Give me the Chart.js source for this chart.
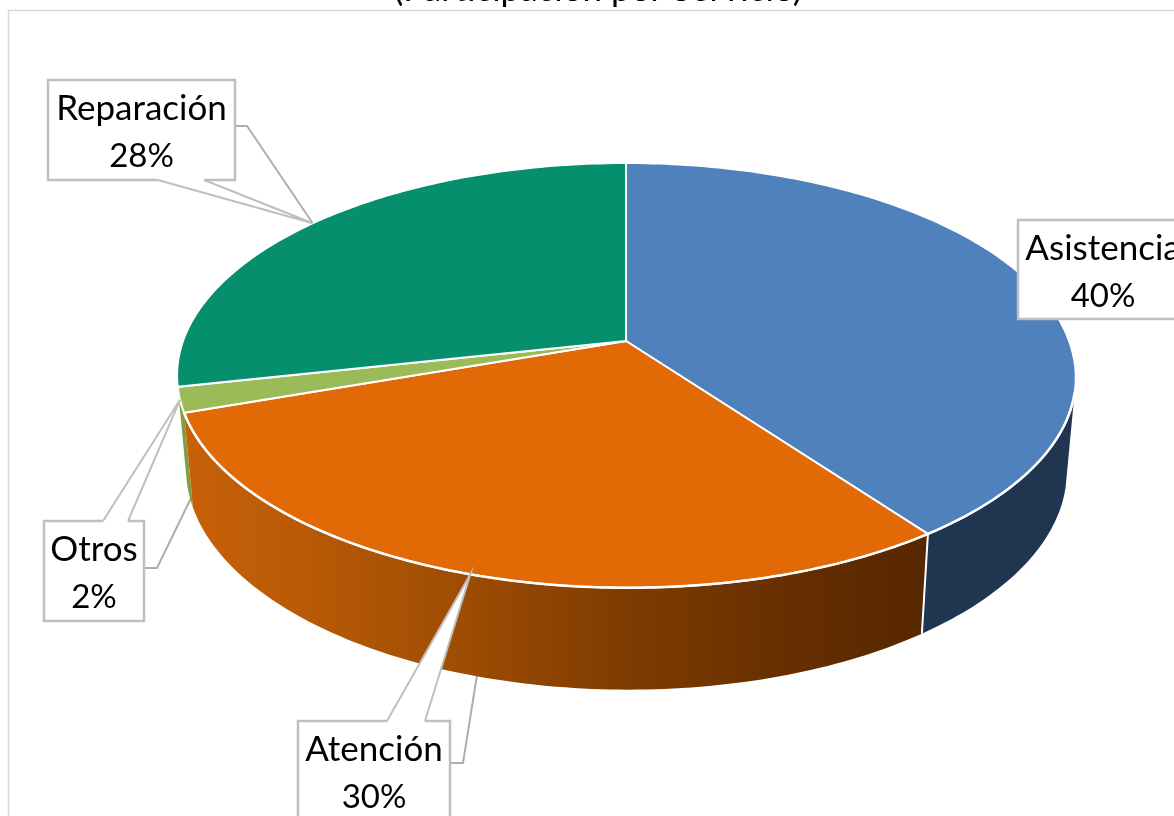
<!DOCTYPE html>
<html>
<head>
<meta charset="utf-8">
<title>Participación por Servicio</title>
<script src="https://cdn.jsdelivr.net/npm/chart.js@4/dist/chart.umd.min.js"></script>
<style>
    html, body { margin: 0; padding: 0; background: #fff; overflow: hidden; }
    canvas { display: block; }
</style>
</head>
<body>
<canvas id="pieChart" width="1174" height="816"></canvas>
<script>
// Chart data
const titleText = "(Participación por Servicio)";
const servicios = ["Asistencia", "Atención", "Otros", "Reparación"];
const participacion = [40, 29.6, 1.9, 28.4];
const topColors = ["#4f81bd", "#e26a06", "#9bbb59", "#068f6c"];
const wallColors = ["#1f3550", "#c76009", "#7f9f42", "#04684e"];

// Shading of the orange wall, left to right
const wallStopsX = [192, 300, 450, 620, 800, 922];
const wallStopsColor = ["#c76009", "#b95a07", "#a04e03", "#7f3c01", "#652e00", "#572700"];

// Callout boxes: x, y, w, h, wedge on top/bottom edge, elbow height and x, where the elbow line ends
const calloutBoxes = [
    { box: [1018, 220, 170, 99] },
    { box: [298, 721, 152, 100], wedge: [387, 425], elbow: [763, 463], far: [477, 675] },
    { box: [44, 521, 100, 100], wedge: [103, 128], elbow: [568, 157], far: [193, 494] },
    { box: [48, 80, 187, 100], wedge: [158, 204], elbow: [126, 247] }
];

// Tilted disc seen in perspective
const view = { cx: 626, cy: 341, a: 443, b: 206.8, k: -0.162, skew: 5 };
const lower = { dy: 92, sx: 0.98, sy: 1.04 };
const rad = Math.PI / 180;
const labelFont = "35px Lato, 'Open Sans', sans-serif";
const pctFont = "33px Lato, 'Open Sans', sans-serif";

function topPoint(angle) {
    const c = Math.cos(angle), s = Math.sin(angle);
    const w = 1 + view.k * s;
    // the front right of the source disc leans out a little
    const lean = s > 0 ? view.skew * s * (c + 1) / 2 : 0;
    return [view.cx + view.a * c / w + lean, view.cy + view.b * s / w];
}

function lowPoint(angle) {
    const p = topPoint(angle);
    return [view.cx + (p[0] - view.cx) * lower.sx, view.cy + lower.dy + (p[1] - view.cy) * lower.sy];
}

function traceArc(ctx, fn, from, to) {
    const steps = Math.max(4, Math.ceil(Math.abs(to - from) / rad));
    for (let i = 0; i <= steps; i++) {
        const p = fn(from + (to - from) * i / steps);
        ctx.lineTo(p[0], p[1]);
    }
}

function drawWall(ctx, arc, i) {
    const from = Math.max(arc.startAngle, 14 * rad);
    const to = Math.min(arc.endAngle, 171 * rad);
    if (to <= from) return;
    ctx.beginPath();
    traceArc(ctx, topPoint, from, to);
    traceArc(ctx, lowPoint, to, from);
    ctx.closePath();
    if (i === 1) {
        const g = ctx.createLinearGradient(wallStopsX[0], 0, wallStopsX[wallStopsX.length - 1], 0);
        wallStopsX.forEach((x, n) => {
            g.addColorStop((x - wallStopsX[0]) / (wallStopsX[wallStopsX.length - 1] - wallStopsX[0]), wallStopsColor[n]);
        });
        ctx.fillStyle = g;
    } else {
        ctx.fillStyle = wallColors[i];
    }
    ctx.fill();
}

function drawTop(ctx, arc, i) {
    ctx.beginPath();
    ctx.moveTo(view.cx, view.cy);
    traceArc(ctx, topPoint, arc.startAngle, arc.endAngle);
    ctx.closePath();
    ctx.fillStyle = topColors[i];
    ctx.fill();
    ctx.strokeStyle = "#ffffff";
    ctx.lineWidth = 2;
    ctx.stroke();
}

function drawElbow(ctx, arc, i) {
    const c = calloutBoxes[i];
    if (!c.elbow) return;
    const tip = c.far || topPoint((arc.startAngle + arc.endAngle) / 2);
    ctx.beginPath();
    ctx.moveTo(c.box[0] + c.box[2], c.elbow[0]);
    ctx.lineTo(c.elbow[1], c.elbow[0]);
    ctx.lineTo(tip[0], tip[1]);
    ctx.strokeStyle = "#aeaeae";
    ctx.lineWidth = 2;
    ctx.stroke();
}

function drawCallout(ctx, arc, i, total) {
    const c = calloutBoxes[i];
    const [x, y, w, h] = c.box;
    ctx.beginPath();
    ctx.rect(x, y, w, h);
    ctx.fillStyle = "#ffffff";
    ctx.fill();
    if (c.wedge) {
        const tip = topPoint((arc.startAngle + arc.endAngle) / 2);
        const edge = tip[1] < y ? y : y + h;
        ctx.beginPath();
        ctx.moveTo(c.wedge[0], edge);
        ctx.lineTo(tip[0], tip[1]);
        ctx.lineTo(c.wedge[1], edge);
        ctx.fillStyle = "#ffffff";
        ctx.fill();
        ctx.strokeStyle = "#bfbfbf";
        ctx.lineWidth = 2;
        ctx.stroke();
    }
    ctx.strokeStyle = "#bfbfbf";
    ctx.lineWidth = 2.5;
    // leave the part of the edge under the wedge open
    ctx.beginPath();
    if (c.wedge) {
        const tip = topPoint((arc.startAngle + arc.endAngle) / 2);
        if (tip[1] < y) {
            ctx.moveTo(c.wedge[1], y); ctx.lineTo(x + w, y); ctx.lineTo(x + w, y + h);
            ctx.lineTo(x, y + h); ctx.lineTo(x, y); ctx.lineTo(c.wedge[0], y);
        } else {
            ctx.moveTo(c.wedge[0], y + h); ctx.lineTo(x, y + h); ctx.lineTo(x, y);
            ctx.lineTo(x + w, y); ctx.lineTo(x + w, y + h); ctx.lineTo(c.wedge[1], y + h);
        }
    } else {
        ctx.rect(x, y, w, h);
    }
    ctx.stroke();

    const pct = Math.round(participacion[i] / total * 100) + "%";
    ctx.fillStyle = "#000000";
    ctx.textAlign = "center";
    ctx.textBaseline = "alphabetic";
    // the Asistencia box runs off the right side, its text is centred on the box
    ctx.font = labelFont;
    ctx.fillText(servicios[i], x + w / 2, y + 40);
    ctx.font = pctFont;
    ctx.fillText(pct, x + w / 2, y + 87);
}

// Draws the pie from the arcs Chart.js computed, as a 3D disc
const disc3d = {
    id: "disc3d",
    beforeDatasetsDraw(chart) {
        const ctx = chart.ctx;
        const arcs = chart.getDatasetMeta(0).data;
        const total = participacion.reduce((a, b) => a + b, 0);

        ctx.save();
        ctx.fillStyle = "#ffffff";
        ctx.fillRect(0, 0, chart.width, chart.height);

        // chart frame, cut off at the right and bottom of the shot
        ctx.strokeStyle = "#d9d9d9";
        ctx.lineWidth = 1.5;
        ctx.beginPath();
        ctx.moveTo(8.5, chart.height + 2);
        ctx.lineTo(8.5, 10.5);
        ctx.lineTo(chart.width + 2, 10.5);
        ctx.stroke();

        // title is cut off at the top of the shot
        ctx.fillStyle = "#000000";
        ctx.font = labelFont;
        ctx.textAlign = "center";
        ctx.textBaseline = "alphabetic";
        ctx.fillText(titleText, 598, 1);

        arcs.forEach((arc, i) => drawElbow(ctx, arc, i));
        [2, 0, 1].forEach(i => drawWall(ctx, arcs[i], i));

        // white seam between the two big walls
        const seam = arcs[1].startAngle;
        const a = topPoint(seam), b = lowPoint(seam);
        ctx.strokeStyle = "#ffffff";
        ctx.lineWidth = 2;
        ctx.beginPath();
        ctx.moveTo(a[0], a[1]);
        ctx.lineTo(b[0], b[1]);
        ctx.stroke();

        arcs.forEach((arc, i) => drawTop(ctx, arc, i));

        // brighter rim along the front edge of the disc
        ctx.strokeStyle = "#ffffff";
        ctx.lineWidth = 2.5;
        ctx.beginPath();
        const rimFrom = 14 * rad, rimTo = arcs[1].endAngle;
        const first = topPoint(rimFrom);
        ctx.moveTo(first[0], first[1]);
        traceArc(ctx, topPoint, rimFrom, rimTo);
        ctx.stroke();

        [3, 2, 1, 0].forEach(i => drawCallout(ctx, arcs[i], i, total));
        ctx.restore();
        return false;
    }
};

new Chart(document.getElementById("pieChart").getContext("2d"), {
    type: "pie",
    data: {
        labels: servicios,
        datasets: [{ data: participacion, backgroundColor: topColors, borderColor: "#ffffff" }]
    },
    options: {
        responsive: false,
        devicePixelRatio: 1,
        animation: false,
        plugins: { legend: { display: false }, tooltip: { enabled: false } }
    },
    plugins: [disc3d]
});
</script>
</body>
</html>
